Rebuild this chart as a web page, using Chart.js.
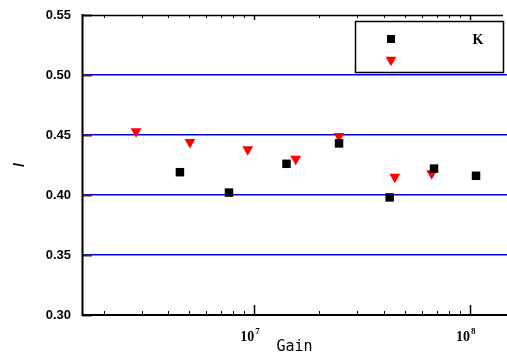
<!DOCTYPE html>
<html>
<head>
<meta charset="utf-8">
<script src="https://cdn.jsdelivr.net/npm/chart.js@4/dist/chart.umd.min.js"></script>
<style>
html,body{margin:0;padding:0;background:#fff;}
#wrap{width:507px;height:356px;position:relative;}
</style>
</head>
<body>
<div id="wrap"><canvas id="c" width="507" height="356"></canvas></div>
<script>
// ---- data ----
const seriesNames = ['K', ''];
const squareGain = [4.52e6, 7.63e6, 1.41e7, 2.47e7, 4.24e7, 6.81e7, 1.066e8];
const squareVal  = [0.419, 0.402, 0.426, 0.443, 0.398, 0.422, 0.416];
const triGain    = [2.83e6, 5.03e6, 9.32e6, 1.556e7, 2.47e7, 4.48e7, 6.64e7];
const triVal     = [0.453, 0.444, 0.438, 0.430, 0.449, 0.415, 0.418];
const yTicks     = [0.30, 0.35, 0.40, 0.45, 0.50, 0.55];
const xMajorTicks = [1e7, 1e8];
const xMajorExp   = ['7', '8'];
const xTitle = 'Gain';
const yTitle = '/';

function pts(xs, ys){ return xs.map((x,i)=>({x:x, y:ys[i]})); }

const frame = {
  id:'frame',
  beforeDatasetsDraw(chart){
    const ctx = chart.ctx, a = chart.chartArea;
    const xs = chart.scales.x, ys = chart.scales.y;
    ctx.save();
    ctx.strokeStyle = '#333'; ctx.lineWidth = 2;
    yTicks.forEach(v=>{
      const y = Math.round(ys.getPixelForValue(v)) + 0.5;
      ctx.beginPath(); ctx.moveTo(a.left, y); ctx.lineTo(a.left+10, y); ctx.stroke();
    });
    ctx.strokeStyle = '#000'; ctx.lineWidth = 1;
    const lo = Math.floor(Math.log10(xs.min)), hi = Math.ceil(Math.log10(xs.max));
    for (let e = lo; e <= hi; e++){
      for (let m = 1; m <= 9; m++){
        const v = m*Math.pow(10,e);
        if (v < xs.min || v > xs.max) continue;
        const x = Math.round(xs.getPixelForValue(v)) + 0.5;
        const major = (m === 1);
        ctx.lineWidth = major ? 1.5 : 1;
        ctx.beginPath(); ctx.moveTo(x, a.bottom); ctx.lineTo(x, a.bottom - (major?10:4)); ctx.stroke();
        ctx.beginPath(); ctx.moveTo(x, a.top); ctx.lineTo(x, a.top + (major?5:3)); ctx.stroke();
      }
    }
    ctx.strokeStyle = '#000';
    ctx.lineWidth = 1.5;
    ctx.beginPath(); ctx.moveTo(a.left, a.top+0.5); ctx.lineTo(a.right-4, a.top+0.5); ctx.stroke();
    ctx.lineWidth = 2;
    ctx.beginPath(); ctx.moveTo(a.left, a.bottom); ctx.lineTo(a.right, a.bottom); ctx.stroke();
    ctx.beginPath(); ctx.moveTo(a.left+0.5, a.top-1); ctx.lineTo(a.left+0.5, a.bottom+1); ctx.stroke();

    ctx.fillStyle = '#000'; ctx.textBaseline = 'alphabetic';
    xMajorTicks.forEach((v,i)=>{
      const x = xs.getPixelForValue(v);
      ctx.font = 'bold 14px "Liberation Serif"';
      ctx.textAlign = 'right';
      ctx.fillText('10', x, 341);
      ctx.font = 'bold 9px "Liberation Serif"';
      ctx.textAlign = 'left';
      ctx.fillText(xMajorExp[i], x+1, 334);
    });
    ctx.font = '15px "DejaVu Sans Mono"';
    ctx.textAlign = 'center';
    ctx.fillText(xTitle, (a.left+a.right)/2, 351);
    ctx.restore();
  },
  afterDraw(chart){
    const ctx = chart.ctx;
    ctx.save();
    ctx.strokeStyle = '#000'; ctx.lineWidth = 1.5;
    ctx.fillStyle = '#fff';
    ctx.fillRect(355.5, 21.5, 148, 51);
    ctx.strokeRect(355.5, 21.5, 148, 51);
    const ds = chart.data.datasets;
    ctx.fillStyle = ds[0].backgroundColor;
    ctx.fillRect(387, 35, 8, 8);
    ctx.fillStyle = ds[1].backgroundColor;
    const r = 6.3, cx = 391, cy = 60;
    ctx.beginPath();
    ctx.moveTo(cx, cy + r);
    ctx.lineTo(cx - r*Math.sin(Math.PI/3), cy - r/2);
    ctx.lineTo(cx + r*Math.sin(Math.PI/3), cy - r/2);
    ctx.closePath(); ctx.fill();
    ctx.fillStyle = '#000';
    ctx.font = 'bold 14px "Liberation Serif"';
    ctx.textAlign = 'center'; ctx.textBaseline = 'middle';
    ctx.fillText(ds[0].label, 478, 40);
    ctx.fillText(ds[1].label, 478, 61);
    ctx.restore();
  }
};

new Chart(document.getElementById('c'), {
  type: 'scatter',
  data: {
    datasets: [
      { label: seriesNames[0], data: pts(squareGain, squareVal), pointStyle: 'rect',
        backgroundColor: '#000', borderColor: '#000', borderWidth: 0, pointRadius: 6, pointHoverRadius: 6 },
      { label: seriesNames[1], data: pts(triGain, triVal), pointStyle: 'triangle', rotation: 180,
        backgroundColor: '#ff0000', borderColor: '#ff0000', borderWidth: 0, pointRadius: 6.3, pointHoverRadius: 6.3 }
    ]
  },
  options: {
    responsive: false,
    animation: false,
    events: [],
    layout: { autoPadding: false, padding: { top: 15, right: 0, left: 0, bottom: 0 } },
    plugins: { legend: { display: false }, tooltip: { enabled: false } },
    scales: {
      x: {
        type: 'logarithmic', bounds: 'data',
        min: 1.589e6, max: 1.484e8,
        grid: { display: false, drawTicks: false },
        border: { display: false },
        ticks: { display: false },
        afterFit(s){ s.height = 41; s.paddingLeft = 0; s.paddingRight = 0; s.paddingTop = 0; s.paddingBottom = 0; }
      },
      y: {
        min: 0.30, max: 0.55,
        afterBuildTicks(s){ s.ticks = yTicks.map(v=>({value:v})); },
        title: {
          display: true, text: yTitle, color: '#000',
          font: { family: '"Liberation Sans", Arial, sans-serif', size: 15, weight: 'bold' },
          padding: { top: 11, bottom: 0 }
        },
        grid: {
          drawTicks: false,
          color: ctx => (ctx.tick && (ctx.tick.value === 0.30 || ctx.tick.value === 0.55)) ? 'rgba(0,0,0,0)' : '#0000dd',
          lineWidth: 1.5
        },
        border: { display: false },
        ticks: {
          padding: 11, color: '#000',
          font: { family: '"Liberation Sans", Arial, sans-serif', size: 13, weight: 'bold' },
          callback: v => Number(v).toFixed(2)
        },
        afterFit(s){ s.width = 82; s.paddingLeft = 0; s.paddingRight = 0; s.paddingTop = 0; s.paddingBottom = 0; }
      }
    }
  },
  plugins: [frame]
});
</script>
</body>
</html>
